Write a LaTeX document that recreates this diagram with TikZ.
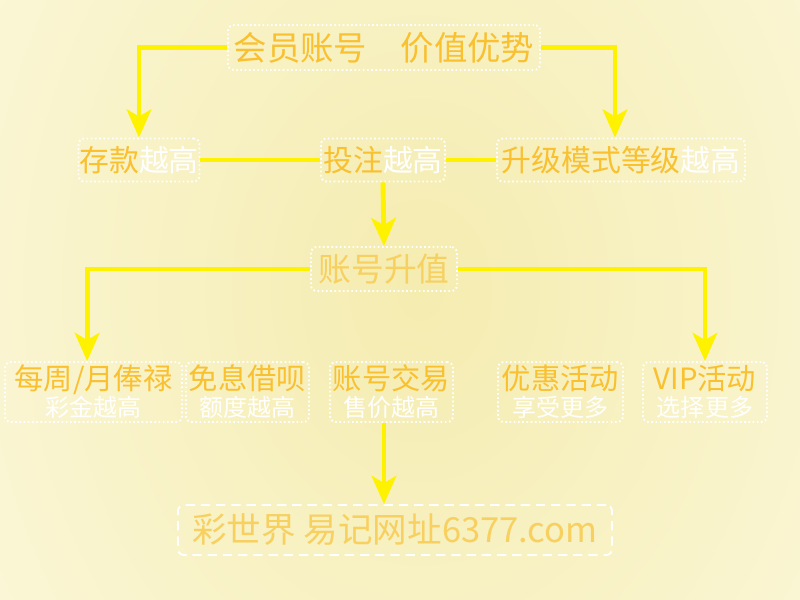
\documentclass[tikz,border=0pt]{standalone}
\usepackage{fontspec}
\setmainfont{Noto Sans CJK SC}
\usetikzlibrary{arrows.meta}

\definecolor{bgyellow}{RGB}{245,236,176}
\definecolor{bglight}{RGB}{255,254,242}
\definecolor{gold}{RGB}{249,192,48}
\definecolor{palegold}{RGB}{247,208,96}
\definecolor{lineyellow}{RGB}{255,242,0}

\begin{document}
\begin{tikzpicture}[x=0.3mm, y=-0.3mm,
    box/.style={draw=white, line width=1.6pt, dash pattern=on 1.4pt off 2.2pt,
      rounded corners=5pt, inner sep=0pt},
    webbox/.style={box, dash pattern=on 8pt off 5pt},
    link/.style={draw=lineyellow, line width=4.2pt},
    arr/.style={link, -{Stealth[length=24pt, width=21pt, inset=6pt]}},
    head/.style={font=\fontsize{25.5}{27}\selectfont, minimum height=12.9mm},
    duo/.style={align=center, font=\fontsize{20.5}{23}\selectfont, minimum height=18mm}]
  \useasboundingbox (0,0) rectangle (800,600);
  \fill[bglight] (0,0) rectangle (800,600);
  \begin{scope}
    \clip (0,0) rectangle (800,600);
    \shade[inner color=bgyellow, outer color=bglight] (420,290) ellipse (860 and 1100);
  \end{scope}

  \node[box, minimum width=93.6mm, minimum height=13.5mm, text=gold,
    font=\fontsize{28.5}{30}\selectfont] (title) at (384,47.5) {会员账号\hspace{1em}价值优势};

  \node[box, head, minimum width=36.3mm] (dep) at (139,160) {\color{gold}存款\color{white}越高};
  \node[box, head, minimum width=37.2mm] (bet) at (383,160) {\color{gold}投注\color{white}越高};
  \node[box, head, minimum width=74.4mm] (upg) at (621,160) {\color{gold}升级模式等级\color{white}越高};

  \node[box, minimum width=43.8mm, minimum height=13.2mm, text=palegold,
    font=\fontsize{28}{30}\selectfont] (value) at (384,269) {账号升值};

  \node[box, duo, minimum width=53.1mm] (sal) at (93.5,392)
    {{\color{gold}\fontsize{25}{23}\selectfont 每周/月俸禄}\\{\color{white}彩金越高}};
  \node[box, duo, minimum width=36.9mm] (loan) at (247.5,392)
    {{\color{gold}\fontsize{25}{23}\selectfont 免息借呗}\\{\color{white}额度越高}};
  \node[box, duo, minimum width=36.9mm] (trade) at (391.5,392)
    {{\color{gold}\fontsize{25}{23}\selectfont 账号交易}\\{\color{white}售价越高}};
  \node[box, duo, minimum width=37.5mm] (promo) at (560.5,392)
    {{\color{gold}\fontsize{25}{23}\selectfont 优惠活动}\\{\color{white}享受更多}};
  \node[box, duo, minimum width=37.2mm] (vip) at (705,392)
    {{\color{gold}\fontsize{25}{23}\selectfont VIP活动}\\{\color{white}选择更多}};

  \node[webbox, minimum width=130.2mm, minimum height=15mm, text=palegold,
    font=\fontsize{29.5}{31}\selectfont] (web) at (395,530) {彩世界 易记网址6377.com};

  \draw[arr] (title.west) -| (dep.north);
  \draw[arr] (title.east) -| ([xshift=-1.8mm]upg.north);
  \draw[link] (dep.east) -- (bet.west);
  \draw[link] (bet.east) -- (upg.west);
  \draw[arr] (bet.south) -- (value.north);
  \draw[arr] (value.west) -| ([xshift=-1.9mm]sal.north);
  \draw[arr] (value.east) -| (vip.north);
  \draw[arr] (trade.south -| value.south) -- (web.north -| value.south);
\end{tikzpicture}
\end{document}
